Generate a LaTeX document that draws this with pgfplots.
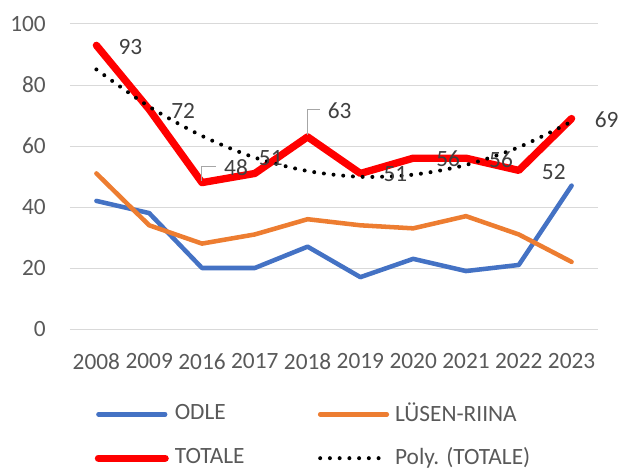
\documentclass[border=0pt]{standalone}
\usepackage{pgfplots}
\pgfplotsset{compat=1.18}
\usepackage{pgfplotstable}
\usepackage{fontspec}
\setmainfont{Carlito}
\definecolor{cblue}{HTML}{4472C4}
\definecolor{corange}{HTML}{ED7D31}
\definecolor{cred}{HTML}{FF0000}
\definecolor{cgrid}{HTML}{D9D9D9}
\definecolor{ctick}{HTML}{595959}
\definecolor{clabel}{HTML}{404040}
\definecolor{clead}{HTML}{A6A6A6}
\pgfplotstableread{
x odle lusen totale dx dy trend
0 42 51 93 25.5 -1.2 85.1
1 38 34 72 25.5 -1.2 72.9
2 20 28 48 25.5 11.25 63.3
3 20 31 51 12 11.25 56.2
4 27 36 63 24 19.5 51.8
5 17 34 51 26.25 -0.75 49.9
6 23 33 56 26.25 -0.75 50.6
7 19 37 56 26.25 -1.5 53.8
8 21 31 52 26.25 -1.2 59.6
9 47 22 69 26.25 -1.1 68.0
}\data
\newcommand{\fs}{\fontsize{17.5}{20}\selectfont}
\begin{document}
\begin{tikzpicture}
\useasboundingbox (-52.5pt,-104.25pt) rectangle (413.25pt,246.75pt);
\begin{axis}[
  at={(0,0)}, anchor=south west,
  scale only axis, width=396pt, height=228.75pt,
  xmin=-0.5, xmax=9.5, ymin=0, ymax=100,
  xtick={0,...,9},
  xticklabels={2008,2009,2016,2017,2018,2019,2020,2021,2022,2023},
  ytick={0,20,...,100},
  axis line style={draw=none}, major tick length=0pt, tick style={draw=none},
  ymajorgrids, grid style={color=cgrid, line width=0.75pt},
  /pgf/number format/assume math mode=true,
  tick label style={font=\fs, text=ctick},
  yticklabel style={anchor=east, inner sep=0pt, xshift=-18pt},
  xticklabel style={anchor=north, inner sep=0pt, yshift=-18.3pt},
  clip=false,
  legend columns=2,
  legend cell align=left,
  legend image code/.code={\draw[#1] (0pt,-1pt) -- (50pt,-1pt);},
  legend style={at={(axis description cs:0,0)}, anchor=north west,
    xshift=18.4pt, yshift=-55pt, draw=none, fill=none, inner sep=0pt,
    nodes={inner sep=0pt, text=ctick, font=\fs},
    row sep=18pt, column sep=4.5pt,
    /tikz/every even column/.append style={column sep=55pt}},
]
\addplot[cblue, line width=3.4pt, line cap=round, line join=round] table[x=x, y=odle] {\data};
\addlegendentry{ODLE}
\addplot[corange, line width=3.4pt, line cap=round, line join=round] table[x=x, y=lusen] {\data};
\addlegendentry{LÜSEN-RIINA}
\addplot[cred, line width=5.5pt, line cap=round, line join=round,
  nodes near coords, point meta=explicit symbolic,
  visualization depends on=\thisrow{dx} \as \ldx,
  visualization depends on=\thisrow{dy} \as \ldy,
  nodes near coords style={anchor=center, xshift=\ldx pt, yshift=\ldy pt,
    font=\fs, text=clabel, inner sep=0pt}]
  table[x=x, y=totale, meta=totale] {\data};
\addlegendentry{TOTALE}
\addplot[black, line width=3pt, line cap=round, dash pattern=on 0pt off 7.3pt, smooth] table[x=x, y=trend] {\data};
\addlegendentry{Poly. (TOTALE)}
\draw[clead, line width=0.75pt] (axis cs:2,48.5) -- (axis cs:2,53.4) -- (axis cs:2.265,53.4);
\draw[clead, line width=0.75pt] (axis cs:4,63.6) -- (axis cs:4,72.1) -- (axis cs:4.235,72.1);
\end{axis}
\end{tikzpicture}
\end{document}
